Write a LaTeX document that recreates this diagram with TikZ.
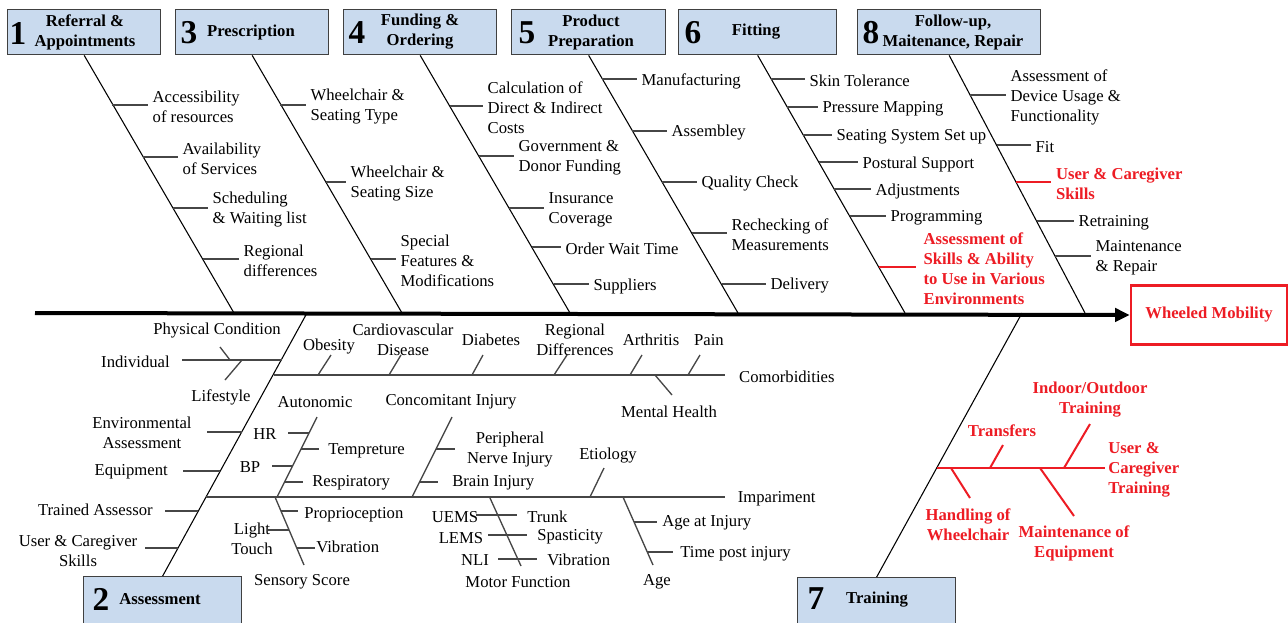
\documentclass[tikz,border=0pt]{standalone}
\usepackage{fontspec}
\setmainfont{Liberation Serif}
\usetikzlibrary{arrows.meta}
\definecolor{boxfill}{RGB}{201,218,238}
\definecolor{boxline}{RGB}{64,64,64}
\definecolor{fishred}{RGB}{237,28,36}
\definecolor{ribgray}{RGB}{70,70,70}
\newcommand\spineY{313}
\newcommand\boxH{45}

\tikzset{
  catbox/.style={draw=boxline, fill=boxfill, line width=1pt, inner sep=0pt,
    minimum width=#1*0.75pt, minimum height=\boxH*0.75pt, anchor=north west},
  num/.style={font=\fontsize{25}{25}\selectfont\bfseries, inner sep=0pt},
  boxlbl/.style={font=\fontsize{12.5}{15}\selectfont\bfseries, inner sep=0pt, align=center},
  lbl/.style={font=\fontsize{12.5}{15}\selectfont, inner sep=0pt, align=left, yshift=-1.5pt},
  redlbl/.style={lbl, font=\fontsize{12.5}{15}\selectfont\bfseries, text=fishred},
  bone/.style={line width=0.8pt},
  rib/.style={draw=ribgray, line width=1pt},
  redrib/.style={draw=fishred, line width=1.5pt},
  spine/.style={line width=3pt, -{Triangle[length=11pt,width=10pt]}},
  effect/.style={draw=fishred, line width=2pt, inner sep=0pt, text=fishred,
    font=\fontsize{12.5}{15}\selectfont\bfseries,
    minimum width=156*0.75pt, minimum height=59*0.75pt}
}

\begin{document}
\begin{tikzpicture}[x=0.75pt, y=-0.75pt]
  \useasboundingbox (0,0) rectangle (1288,622);

  %% category boxes
  \node[catbox=153] (box1) at (7,9) {};
  \node[catbox=153] (box3) at (175,9) {};
  \node[catbox=153] (box4) at (343,9) {};
  \node[catbox=154] (box5) at (511,9) {};
  \node[catbox=158] (box6) at (678,9) {};
  \node[catbox=183] (box8) at (857,9) {};
  \node[catbox=158, minimum height=47*0.75pt] (box2) at (83,576) {};
  \node[catbox=158, minimum height=47*0.75pt] (box7) at (797,577) {};

  \node[num] (n1) at (18,33) {1};
  \node[num] (n3) at (189,33) {3};
  \node[num] (n4) at (357,33) {4};
  \node[num] (n5) at (527,33) {5};
  \node[num] (n6) at (693,33) {6};
  \node[num] (n8) at (871,33) {8};
  \node[num] (n2) at (101,599) {2};
  \node[num] (n7) at (816,599) {7};

  \node[boxlbl] (t1) at (85,32) {Referral \&\\Appointments};
  \node[boxlbl] (t3) at (251,32) {Prescription};
  \node[boxlbl] (t4) at (420,32) {Funding \&\\Ordering};
  \node[boxlbl] (t5) at (591,32) {Product\\Preparation};
  \node[boxlbl] (t6) at (756,32) {Fitting};
  \node[boxlbl] (t8) at (953,32) {Follow-up,\\Maitenance, Repair};
  \node[boxlbl] (t2) at (160,599) {Assessment};
  \node[boxlbl] (t7) at (877,600) {Training};

  %% spine and effect
  \coordinate (tail) at (35,\spineY);
  \node[effect] (effect) at (1209,315) {Wheeled Mobility};
  \draw[spine] (tail) -- (effect.west);

  \coordinate (s1) at (234,\spineY);
  \coordinate (s3) at (402,\spineY);
  \coordinate (s4) at (570,\spineY);
  \coordinate (s5) at (738,\spineY);
  \coordinate (s6) at (905,\spineY);
  \coordinate (s8) at (1085,\spineY);
  \coordinate (s2) at (307,\spineY);
  \coordinate (s7) at (1022,\spineY);

  \foreach \b in {1,3,4,5,6,8}
    \draw[bone] (box\b.south) -- (s\b);
  \foreach \b in {2,7}
    \draw[bone] (box\b.north) -- (s\b);

  %% top causes
  \foreach \xa/\xb/\yy/\txt in {112/148/105/{Accessibility\\of resources},
      143/178/157/{Availability\\of Services}, 173/208/208/{Scheduling\\\& Waiting list},
      203/239/259/{Regional\\differences},
      280/306/105/{Wheelchair \&\\Seating Type}, 326/346/182/{Wheelchair \&\\Seating Size},
      371/396/259/{Special\\Features \&\\Modifications},
      450/483/106/{Calculation of\\Direct \& Indirect\\Costs}, 479/514/156/{Government \&\\Donor Funding},
      509/544/208/{Insurance\\Coverage}, 532/561/247/{Order Wait Time}, 554/589/284/{Suppliers},
      602/637/79/{Manufacturing}, 632/667/131/{Assembley}, 662/697/182/{Quality Check},
      692/727/233/{Rechecking of\\Measurements}, 722/766/284/{Delivery},
      771/805/79/{Skin Tolerance}, 787/818/107/{Pressure Mapping},
      803/832/135/{Seating System Set up}, 819/858/162/{Postural Support},
      834/871/189/{Adjustments}, 850/886/216/{Programming},
      970/1006/95/{Assessment of\\Device Usage \&\\Functionality}, 997/1031/145/{Fit},
      1037/1074/221/{Retraining}, 1055/1091/256/{Maintenance\\\& Repair}}{
    \draw[rib] (\xa,\yy) -- (\xb,\yy) node[lbl, anchor=west, xshift=3pt] {\txt};
  }
  \draw[redrib] (879,267) -- (916,267)
    node[redlbl, anchor=west, xshift=5pt] {Assessment of\\Skills \& Ability\\to Use in Various\\Environments};
  \draw[redrib] (1016,182) -- (1051,182)
    node[redlbl, anchor=west, xshift=3pt] {User \& Caregiver\\Skills};

  %% assessment causes
  \draw[rib] (182,360) -- (282,360);
  \node[lbl, anchor=east] (indiv) at (170,360) {Individual};
  \node[lbl] (phys) at (217,329) {Physical Condition};
  \node[lbl] (life) at (221,395) {Lifestyle};
  \draw[rib] (220,347) -- (230,360);
  \draw[rib] (242,360) -- (225,380);
  \foreach \xa/\xb/\yy in {207/242/432, 183/220/471, 165/198/511, 145/178/548}
    \draw[rib] (\xa,\yy) -- (\xb,\yy);
  \node[lbl, align=center] (env) at (142,431) {Environmental\\Assessment};
  \node[lbl, anchor=east] (equip) at (168,470) {Equipment};
  \node[lbl, anchor=east] (trained) at (153,508) {Trained Assessor};
  \node[lbl, align=center] (usercare) at (78,549) {User \& Caregiver\\Skills};

  %% comorbidities
  \draw[rib, line width=1.2pt] (274,375) -- (725,375) node[lbl, anchor=west, xshift=10pt] (comorb) {Comorbidities};
  \foreach \xa/\xb in {318/331, 389/401, 472/483, 554/567, 630/642, 688/700}
    \draw[rib] (\xa,375) -- (\xb,355);
  \draw[rib] (655,375) -- (672,395);
  \node[lbl] (obes) at (329,345) {Obesity};
  \node[lbl, align=center] (cardio) at (403,338) {Cardiovascular\\Disease};
  \node[lbl] (diab) at (491,338) {Diabetes};
  \node[lbl, align=center] (region) at (575,338) {Regional\\Differences};
  \node[lbl] (arth) at (651,338) {Arthritis};
  \node[lbl] (pain) at (709,338) {Pain};
  \node[lbl] (mental) at (669,410) {Mental Health};

  %% impairment
  \draw[rib, line width=1.2pt] (206,497) -- (725,497) node[lbl, anchor=west, xshift=9pt] (impair) {Impariment};
  \draw[rib] (277,497) -- (317,417);
  \node[lbl] (auto) at (315,400) {Autonomic};
  \draw[rib] (288,433) -- (309,433);
  \draw[rib] (301,449) -- (319,449);
  \draw[rib] (272,466) -- (293,466);
  \draw[rib] (285,482) -- (303,482);
  \node[lbl] (hr) at (265,432) {HR};
  \node[lbl] (bp) at (250,465) {BP};
  \node[lbl, anchor=west] (temp) at (328,449) {Tempreture};
  \node[lbl, anchor=west] (resp) at (312,481) {Respiratory};

  \draw[rib] (412,497) -- (452,417);
  \node[lbl] (conc) at (451,400) {Concomitant Injury};
  \draw[rib] (436,449) -- (455,449);
  \draw[rib] (420,482) -- (438,482);
  \node[lbl, align=center] (periph) at (510,448) {Peripheral\\Nerve Injury};
  \node[lbl, anchor=west] (brain) at (452,481) {Brain Injury};

  \draw[rib] (590,497) -- (604,468);
  \node[lbl] (etio) at (608,454) {Etiology};

  \draw[rib] (275,497) -- (304,565);
  \draw[rib] (281,511) -- (298,511);
  \draw[rib] (268,530) -- (289,530);
  \draw[rib] (297,548) -- (315,548);
  \node[lbl, anchor=west] (propr) at (304,513) {Proprioception};
  \node[lbl, align=center] (light) at (252,537) {Light\\Touch};
  \node[lbl, anchor=west] (vib1) at (316,545) {Vibration};
  \node[lbl] (sens) at (302,580) {Sensory Score};

  \draw[rib] (490,498) -- (521,566);
  \draw[rib] (476,515) -- (517,515);
  \draw[rib] (488,535) -- (527,535);
  \draw[rib] (498,559) -- (537,559);
  \node[lbl] (uems) at (455,515) {UEMS};
  \node[lbl] (lems) at (461,536) {LEMS};
  \node[lbl] (nli) at (475,558) {NLI};
  \node[lbl, anchor=west] (trunk) at (527,515) {Trunk};
  \node[lbl, anchor=west] (spast) at (537,535) {Spasticity};
  \node[lbl, anchor=west] (vib2) at (547,558) {Vibration};
  \node[lbl] (motor) at (518,580) {Motor Function};

  \draw[rib] (623,497) -- (653,565);
  \draw[rib] (634,522) -- (657,522);
  \draw[rib] (647,552) -- (673,552);
  \node[lbl, anchor=west] (ageinj) at (662,521) {Age at Injury};
  \node[lbl, anchor=west] (tpost) at (680,552) {Time post injury};
  \node[lbl] (age) at (657,580) {Age};

  %% training
  \draw[redrib] (937,468) -- (1105,468);
  \draw[redrib] (990,468) -- (1003,445);
  \draw[redrib] (1064,468) -- (1090,424);
  \draw[redrib] (951,468) -- (970,498);
  \draw[redrib] (1040,468) -- (1074,516);
  \node[redlbl, align=center] (transf) at (1002,429) {Transfers};
  \node[redlbl, align=center] (indoor) at (1090,398) {Indoor/Outdoor\\Training};
  \node[redlbl, anchor=west] (usertr) at (1108,468) {User \&\\Caregiver\\Training};
  \node[redlbl, align=center] (handl) at (968,523) {Handling of\\Wheelchair};
  \node[redlbl, align=center] (maint) at (1074,541) {Maintenance of\\Equipment};
\end{tikzpicture}
\end{document}
